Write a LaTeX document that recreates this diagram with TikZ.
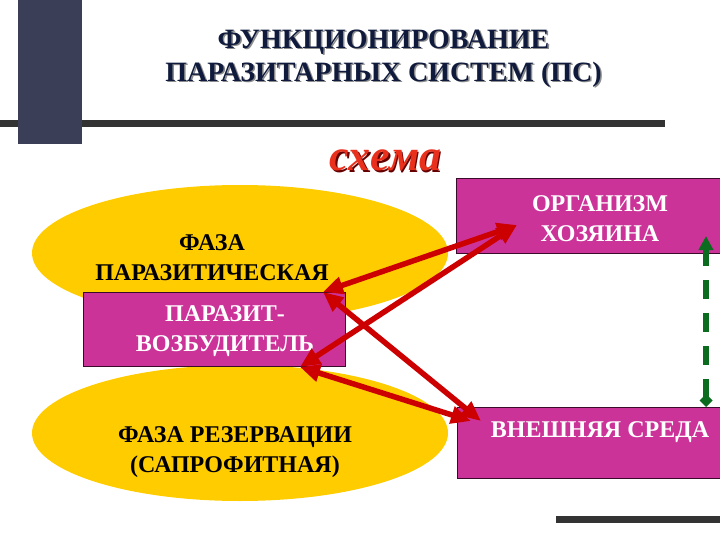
\documentclass[tikz,border=0pt]{standalone}
\usepackage{fontspec}
\setmainfont{Liberation Serif}
\usetikzlibrary{arrows.meta,shapes.geometric}
\definecolor{navy}{HTML}{0F1A3C}
\definecolor{barblue}{HTML}{3A3F57}
\definecolor{bardark}{HTML}{333333}
\definecolor{phase}{HTML}{FFCC00}
\definecolor{pink}{HTML}{CC3399}
\definecolor{boxedge}{HTML}{3A0A2A}
\definecolor{redarrow}{HTML}{CC0000}
\definecolor{schema}{HTML}{E8301C}
\definecolor{greenline}{HTML}{0B6B1F}
\tikzset{
  titletext/.style={align=center,font=\bfseries\fontsize{28}{33}\selectfont,inner sep=0},
  phasebox/.style={ellipse,fill=phase,inner sep=0,minimum width=416,minimum height=136},
  phasetext/.style={align=center,font=\bfseries\fontsize{24}{30}\selectfont,inner sep=0,text=black},
  pinkbox/.style={rectangle,fill=pink,draw=boxedge,line width=1pt,inner sep=0},
  boxtext/.style={align=center,font=\bfseries\fontsize{24}{30}\selectfont,inner sep=0,text=white},
  shadowtext/.style={text=black!45},
  link/.style={draw=redarrow,line width=5.5pt,{Triangle[length=20pt,width=17pt]}-{Triangle[length=20pt,width=17pt]}},
  hostlink/.style={draw=greenline,line width=5.5pt,dash pattern=on 19pt off 14pt,{Diamond[length=13pt,width=13pt]}-{Triangle[length=14pt,width=14pt]}}
}
\begin{document}
\begin{tikzpicture}[x=1pt,y=-1pt]
\useasboundingbox (0,0) rectangle (720,540);
% decorative bars
\fill[bardark] (0,120) rectangle (665,127);
\fill[barblue] (18,0) rectangle (82,144);
\fill[bardark] (556,516) rectangle (720,523);
% title
\node[titletext,shadowtext] (titleshadow) at (385,60) {ФУНКЦИОНИРОВАНИЕ\\ПАРАЗИТАРНЫХ СИСТЕМ (ПС)};
\node[titletext,text=navy] (title) at (383.5,58.5) {ФУНКЦИОНИРОВАНИЕ\\ПАРАЗИТАРНЫХ СИСТЕМ (ПС)};
\node[font=\bfseries\itshape\fontsize{44}{44}\selectfont,text=red!40!black,inner sep=0] (schemashadow) at (387,162) {схема};
\node[font=\bfseries\itshape\fontsize{44}{44}\selectfont,text=schema,inner sep=0] (schema) at (385.5,160.5) {схема};
% phases
\node[phasebox] (parphase) at (240,253) {};
\node[phasebox] (resphase) at (240,433) {};
\node[phasetext] (parphasetext) at (212,258) {ФАЗА\\ПАРАЗИТИЧЕСКАЯ};
\node[phasetext] (resphasetext) at (235,452) {ФАЗА РЕЗЕРВАЦИИ\\(САПРОФИТНАЯ)};
% boxes
\node[pinkbox,minimum width=262,minimum height=74] (parasite) at (214,329) {};
\node[boxtext] (parasitetext) at (225,331) {ПАРАЗИТ-\\ВОЗБУДИТЕЛЬ};
\node[pinkbox,minimum width=270,minimum height=74] (host) at (591,216) {};
\node[boxtext] (hosttext) at (600,219) {ОРГАНИЗМ\\ХОЗЯИНА};
\node[pinkbox,minimum width=270,minimum height=71] (env) at (592,442.5) {};
\node[boxtext] (envtext) at (600,432) {ВНЕШНЯЯ СРЕДА};
% arrow ends
\coordinate (pa) at (323,292);
\coordinate (pb) at (300,367);
\coordinate (ho) at (517,225);
\coordinate (en1) at (481,421);
\coordinate (en2) at (471,421);
\draw[link] (pa) -- (ho);
\draw[link] (pb) -- (ho);
\draw[link] (pa) -- (en1);
\draw[link] (pb) -- (en2);
% host-environment
\coordinate (gbot) at (706,407);
\coordinate (gtop) at (706,236);
\draw[hostlink] (gbot) -- (gtop);
\end{tikzpicture}
\end{document}
